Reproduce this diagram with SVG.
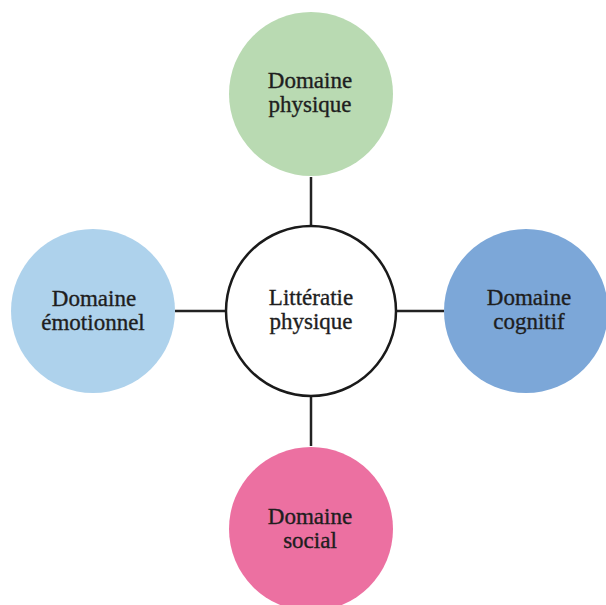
<svg xmlns="http://www.w3.org/2000/svg" width="606" height="605" viewBox="0 0 606 605">
<style>
text{font-family:'Liberation Serif','Times New Roman',Tinos,serif;font-size:23px;fill:#1e1e1e;text-anchor:middle;stroke:#1e1e1e;stroke-width:0.35}
.c{stroke:none}
.link{stroke:#222;stroke-width:2.5;fill:none}
</style>
<rect width="606" height="605" fill="#fff"/>
<g id="connectors">
<line class="link" x1="311" y1="177" x2="311" y2="226"/>
<line class="link" x1="311" y1="396" x2="311" y2="446"/>
<line class="link" x1="175" y1="311" x2="226" y2="311"/>
<line class="link" x1="396" y1="311" x2="444" y2="311"/>
</g>
<g id="center">
<circle cx="311" cy="311" r="85" fill="#fff" stroke="#1a1a1a" stroke-width="2.5"/>
<text x="311" y="305">Littératie</text>
<text x="311" y="329">physique</text>
</g>
<g id="physique">
<circle class="c" cx="311" cy="94" r="82" fill="#b9dab2"/>
<text x="310" y="88">Domaine</text>
<text x="310" y="112">physique</text>
</g>
<g id="emotionnel">
<circle class="c" cx="93" cy="311" r="82" fill="#aed2ec"/>
<text x="94" y="306">Domaine</text>
<text x="93" y="330">émotionnel</text>
</g>
<g id="cognitif">
<circle class="c" cx="526" cy="311" r="82" fill="#7ca7d8"/>
<text x="529" y="305">Domaine</text>
<text x="529" y="329">cognitif</text>
</g>
<g id="social">
<circle class="c" cx="311" cy="529" r="82" fill="#ec70a1"/>
<text x="310" y="524">Domaine</text>
<text x="310" y="548">social</text>
</g>
</svg>
